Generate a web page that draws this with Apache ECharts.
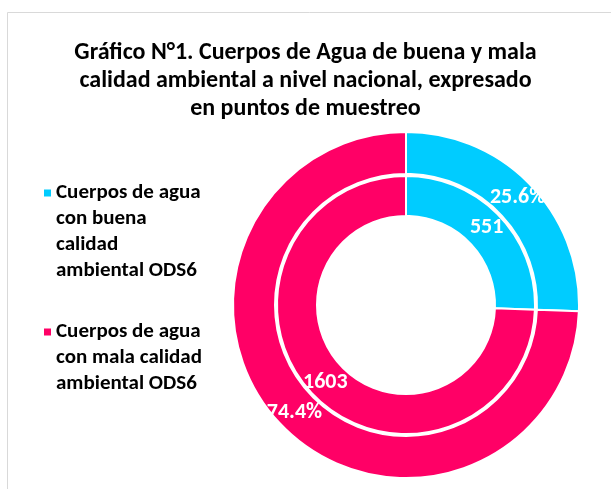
<!DOCTYPE html>
<html>
<head>
<meta charset="utf-8">
<script src="https://cdn.jsdelivr.net/npm/echarts@6/dist/echarts.min.js"></script>
<style>
  html, body { margin: 0; padding: 0; background: #fff; }
  #main { width: 611px; height: 489px; }
</style>
</head>
<body>
<div id="main"></div>
<script>
var titleText = 'Gráfico N°1. Cuerpos de Agua de buena y mala\ncalidad ambiental a nivel nacional, expresado\nen puntos de muestreo';
var categories = ['Cuerpos de agua con buena calidad ambiental ODS6', 'Cuerpos de agua con mala calidad ambiental ODS6'];
var legendLines = [
    ['Cuerpos de agua', 'con buena', 'calidad', 'ambiental ODS6'],
    ['Cuerpos de agua', 'con mala calidad', 'ambiental ODS6']
];
var values = [551, 1603];
var colors = ['#00ccff', '#ff0066'];

var font = 'Calibri, Carlito, Lato, sans-serif';
var lineH = 26;

var pieData = [];
for (var i = 0; i < categories.length; i++) {
    pieData.push({ name: categories[i], value: values[i], itemStyle: { color: colors[i] } });
}

// blank lines on top so the first text line sits level with the marker
function legendText(name) {
    var lines = legendLines[categories.indexOf(name)];
    var pad = '';
    for (var k = 1; k < lines.length; k++) pad += '\n';
    return pad + lines.join('\n');
}

var myChart = echarts.init(document.getElementById('main'));
myChart.setOption({
    backgroundColor: '#fff',
    animation: false,
    title: {
        text: titleText,
        left: 'center',
        top: 34,
        textStyle: {
            fontFamily: font,
            fontSize: 24,
            fontWeight: 'bold',
            color: '#000',
            lineHeight: 28
        }
    },
    legend: {
        orient: 'vertical',
        left: 44,
        top: 102,
        padding: 0,
        itemWidth: 7,
        itemHeight: 7,
        itemGap: -17,
        icon: 'rect',
        itemStyle: { borderWidth: 0 },
        data: categories,
        formatter: legendText,
        textStyle: {
            fontFamily: font,
            fontSize: 21,
            fontWeight: 'bold',
            color: '#000',
            lineHeight: lineH
        }
    },
    graphic: [{
        type: 'polyline',
        shape: { points: [[7.5, 489], [7.5, 12.5], [611, 12.5]] },
        style: { stroke: '#d9d9d9', lineWidth: 1, fill: null },
        silent: true
    }],
    series: [
        {
            name: 'valores',
            type: 'pie',
            center: [406, 305],
            radius: [89, 129],
            startAngle: 90,
            clockwise: true,
            data: pieData,
            itemStyle: { borderColor: '#fff', borderWidth: 2 },
            label: {
                position: 'inside',
                formatter: '{c}',
                color: '#fff',
                fontFamily: font,
                fontSize: 22,
                fontWeight: 'bold'
            },
            labelLine: { show: false }
        },
        {
            name: 'porcentaje',
            type: 'pie',
            center: [406, 305],
            radius: [131, 173],
            startAngle: 90,
            clockwise: true,
            percentPrecision: 1,
            data: pieData,
            itemStyle: { borderColor: '#fff', borderWidth: 2 },
            label: {
                position: 'inside',
                formatter: '{d}%',
                color: '#fff',
                fontFamily: font,
                fontSize: 22,
                fontWeight: 'bold'
            },
            labelLine: { show: false }
        }
    ]
});
</script>
</body>
</html>
